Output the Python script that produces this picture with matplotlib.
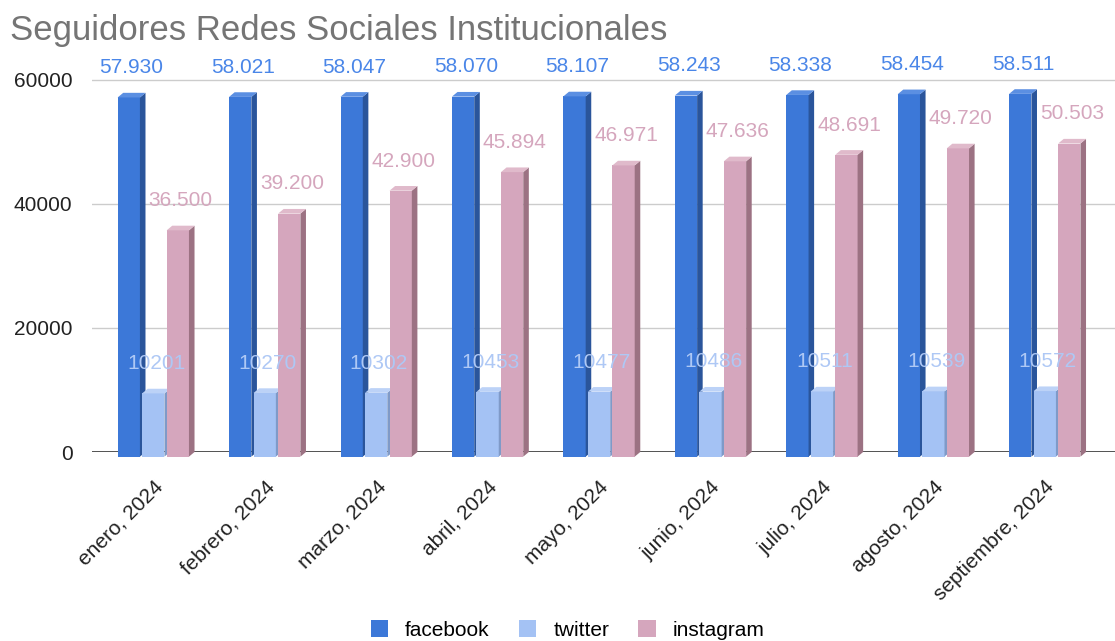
import numpy as np
import matplotlib.pyplot as plt
from matplotlib.patches import Polygon, Patch

# -------------------------------
# Data
# -------------------------------

months = [
    "enero, 2024", "febrero, 2024", "marzo, 2024", "abril, 2024",
    "mayo, 2024", "junio, 2024", "julio, 2024", "agosto, 2024",
    "septiembre, 2024",
]

facebook = [57930, 58021, 58047, 58070, 58107, 58243, 58338, 58454, 58511]
twitter = [10201, 10270, 10302, 10453, 10477, 10486, 10511, 10539, 10572]
instagram = [36500, 39200, 42900, 45894, 46971, 47636, 48691, 49720, 50503]

series_names = ["facebook", "twitter", "instagram"]

# -------------------------------
# Style
# -------------------------------

plt.rcParams["font.family"] = ["Liberation Sans", "DejaVu Sans"]

front_colors = ["#3c78d8", "#a4c2f4", "#d5a6bd"]
side_colors = ["#2a559b", "#7f9ac8", "#9c7283"]
top_colors = ["#5b8fe2", "#bcd2f7", "#e0bacb"]
label_colors = ["#4a86e8", "#aec8f5", "#d5a6bd"]

bar_w = 0.2
step = 0.22
dx = 0.05     # depth offset in x (data units)
dy = 750      # depth offset in y (data units)

fig = plt.figure(figsize=(11.15, 6.41), dpi=100)
ax = fig.add_axes([92 / 1115, 189 / 641, 1023 / 1115, 0.5997])

x = np.arange(len(months))
ax.set_xlim(-0.55, 8.63)
ax.set_ylim(0, 62000)

# gridlines
for g in [20000, 40000, 60000]:
    ax.axhline(g, color="#cccccc", lw=1, zorder=0)
ax.axhline(0, color="#444444", lw=1.3, zorder=0)

# -------------------------------
# 3D-ish bars
# -------------------------------

all_series = [facebook, twitter, instagram]

for i in range(len(months)):
    for s, vals in enumerate(all_series):
        h = vals[i]
        c = x[i] + (s - 1) * step
        xl = c - bar_w / 2
        xr = c + bar_w / 2
        z = 2 + i * 3 + s
        ax.bar(c, h, width=bar_w, bottom=-dy, color=front_colors[s],
               zorder=z, clip_on=False, linewidth=0)
        side = Polygon([(xr, -dy), (xr + dx, 0), (xr + dx, h), (xr, h - dy)],
                       closed=True, facecolor=side_colors[s], edgecolor="none",
                       zorder=z, clip_on=False)
        top = Polygon([(xl, h - dy), (xl + dx, h), (xr + dx, h), (xr, h - dy)],
                      closed=True, facecolor=top_colors[s], edgecolor="none",
                      zorder=z, clip_on=False)
        ax.add_patch(side)
        ax.add_patch(top)

# -------------------------------
# Data labels
# -------------------------------

for i in range(len(months)):
    for s, vals in enumerate(all_series):
        h = vals[i]
        c = x[i] + (s - 1) * step + dx / 2
        if s == 1:
            txt = str(h)
        else:
            txt = f"{h:,}".replace(",", ".")
        ax.annotate(txt, (c, h), xytext=(0, 18), textcoords="offset points",
                    ha="center", va="center", fontsize=15,
                    color=label_colors[s], zorder=50, annotation_clip=False)

# -------------------------------
# Axes
# -------------------------------

ax.set_yticks([0, 20000, 40000, 60000])
ax.set_yticklabels(["0", "20000", "40000", "60000"])
ax.set_xticks(x)
ax.set_xticklabels(months, rotation=45, ha="right", rotation_mode="anchor")
ax.tick_params(axis="y", length=0, pad=14, labelsize=15, labelcolor="#222222")
ax.tick_params(axis="x", length=0, pad=18, labelsize=15, labelcolor="#222222")

for sp in ax.spines.values():
    sp.set_visible(False)

fig.text(0.009, 0.9376, "Seguidores Redes Sociales Institucionales",
         fontsize=25, color="#757575", va="baseline")

handles = [Patch(facecolor=front_colors[k], edgecolor="none")
           for k in range(3)]
fig.legend(handles, series_names, loc="lower center",
           bbox_to_anchor=(0.509, -0.027), ncol=3, frameon=False,
           fontsize=15, handlelength=0.85, handleheight=0.85,
           columnspacing=1.4, handletextpad=0.8)

fig.savefig("out.png", dpi=100)
